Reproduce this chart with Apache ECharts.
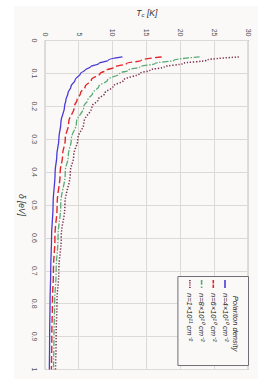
<!DOCTYPE html>
<html><head><meta charset="utf-8">
<script src="https://cdn.jsdelivr.net/npm/echarts@6/dist/echarts.min.js"></script>
<style>
html,body{margin:0;padding:0;background:#fff;width:273px;height:386px;overflow:hidden;}
#wrap{position:absolute;left:0;top:0;width:386px;height:273px;transform-origin:0 0;transform:translate(273px,0) rotate(90deg);}
#chart{width:386px;height:273px;}
</style></head><body>
<div id="wrap"><div id="chart"></div></div>
<script>
// δ [eV] sample positions
const deltaValues = [0.05,0.06,0.07,0.08,0.09,0.1,0.12,0.14,0.16,0.18,0.2,0.25,0.3,0.35,0.4,0.5,0.6,0.7,0.8,0.9,1.0];
// T_c [K]
const tcN4e10 = [11.4,9.3,7.9,6.7,5.9,5.2,4.4,3.8,3.35,3.05,2.85,2.3,2.0,1.7,1.45,1.15,0.92,0.8,0.7,0.64,0.6];
const tcN6e10 = [17.2,14.2,12.0,10.4,9.1,8.1,6.8,5.9,5.2,4.7,4.3,3.45,2.95,2.55,2.2,1.75,1.42,1.2,1.05,0.96,0.9];
const tcN8e10 = [22.8,19.0,16.2,14.0,12.3,11.0,9.2,7.9,7.0,6.3,5.7,4.6,3.85,3.4,2.95,2.28,1.88,1.6,1.38,1.28,1.2];
const tcN1e11 = [28.6,23.8,20.3,17.6,15.5,13.9,11.6,10.0,8.8,7.8,6.9,5.7,4.8,4.2,3.7,2.9,2.35,2.0,1.72,1.6,1.5];
const seriesNames = ['n=4×10¹⁰ cm⁻²','n=6×10¹⁰ cm⁻²','n=8×10¹⁰ cm⁻²','n=1×10¹¹ cm⁻²'];
const legendTitle = 'Polariton density';
const xName = 'δ [eV]';

const FONT = '"Liberation Sans", Arial, sans-serif';
const styles = [
  {color:'#4a3ad6', type:'solid', width:1.3, icon:'path://M0,0h8v1.6h-8z'},
  {color:'#e2262b', type:[7,3], width:1.4, icon:'path://M0,0h3.4v1.6h-3.4z M4.6,0h3.4v1.6h-3.4z'},
  {color:'#5aaa78', type:[6,1.6,1.4,1.6], width:1.3, icon:'path://M0,0h4.8v1.6h-4.8z M6.4,0h1.6v1.6h-1.6z'},
  {color:'#7e2e50', type:[1.3,1.7], width:1.5, icon:'path://M0,0h1.2v1.6h-1.2z M2.2,0h1.2v1.6h-1.2z M4.4,0h1.2v1.6h-1.2z M6.8,0h1.2v1.6h-1.2z'}
];
const allTc = [tcN4e10, tcN6e10, tcN8e10, tcN1e11];

const chart = echarts.init(document.getElementById('chart'), null, {renderer:'svg', width:386, height:273});
chart.setOption({
  animation:false,
  backgroundColor:'#ffffff',
  textStyle:{fontFamily:FONT},
  graphic:[
    {type:'rect', z:-100, silent:true, shape:{x:6,y:15,width:373,height:244}, style:{fill:'#faf9f7'}},
    {type:'text', z:100, silent:true, x:323.5, y:37.5,
     style:{text:legendTitle, font:'italic 7.5px '+FONT, fill:'#222', textAlign:'center', textVerticalAlign:'middle'}}
  ],
  grid:{left:40.5, right:16.5, top:24.7, bottom:45.3, show:true, borderColor:'#6f6f78', borderWidth:1, backgroundColor:'transparent', containLabel:false, outerBoundsMode:'none'},
  xAxis:{type:'value', min:0, max:1, interval:0.1,
    name:xName, nameLocation:'middle', nameGap:18,
    nameTextStyle:{fontStyle:'italic', fontSize:8.5, color:'#333', fontFamily:FONT},
    axisLine:{show:false}, axisTick:{show:false},
    axisLabel:{margin:7, fontSize:7, color:'#555', fontFamily:FONT},
    splitLine:{show:true, lineStyle:{color:'#dcdad4', width:1}}},
  yAxis:{type:'value', min:0, max:30, interval:5,
    name:'{i|T}{s|c}{i| [K]}', nameLocation:'middle', nameGap:21,
    nameTextStyle:{rich:{i:{fontStyle:'italic', fontSize:8.5, color:'#333', fontFamily:FONT}, s:{fontStyle:'italic', fontSize:6, color:'#333', fontFamily:FONT, verticalAlign:'bottom', padding:[4,0,0,0]}}},
    axisLine:{show:false}, axisTick:{show:false},
    axisLabel:{margin:4, fontSize:7, color:'#555', fontFamily:FONT},
    splitLine:{show:true, lineStyle:{color:'#dcdad4', width:1}}},
  legend:{orient:'vertical', left:276.5, top:24.5,
    padding:[19.5,24,8,3.5], itemWidth:8, itemHeight:8, itemGap:3.7,
    borderColor:'#6f6f78', borderWidth:1, backgroundColor:'#faf9f7',
    textStyle:{fontSize:7.5, fontStyle:'italic', color:'#222', fontFamily:FONT, lineHeight:8},
    data:seriesNames.map((nm,i)=>({name:nm, icon:styles[i].icon, itemStyle:{color:styles[i].color}}))},
  series: seriesNames.map((nm,i)=>({
    name:nm, type:'line', smooth:0.4, smoothMonotone:'x', showSymbol:false, symbol:'none',
    lineStyle:{color:styles[i].color, type:styles[i].type, width:styles[i].width},
    itemStyle:{color:styles[i].color},
    data: deltaValues.map((d,k)=>[d, allTc[i][k]])
  }))
});
</script>
</body></html>
